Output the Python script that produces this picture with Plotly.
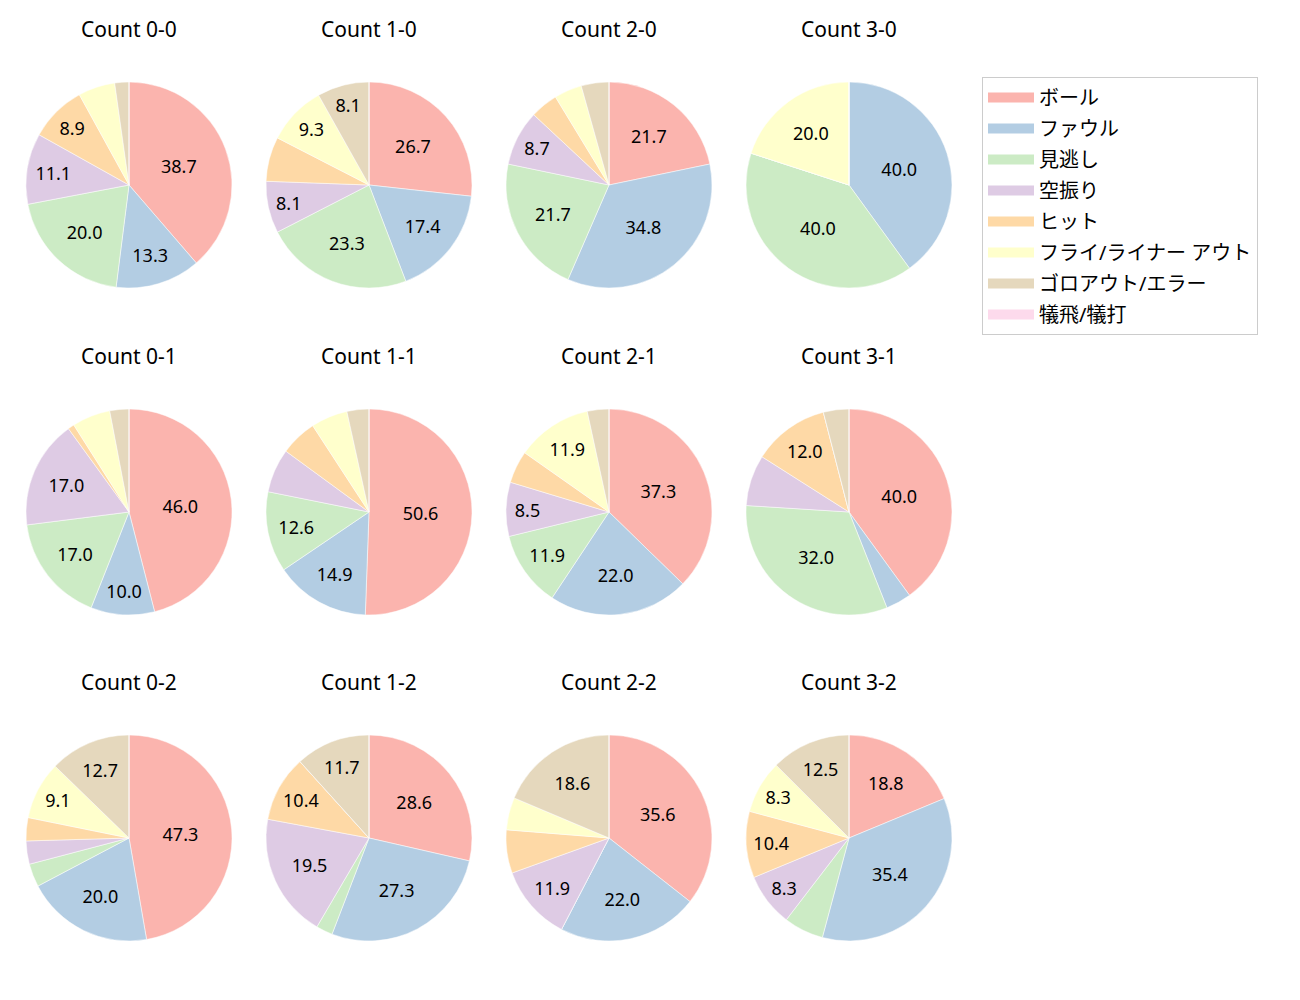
import plotly.graph_objects as go

labels = ["ボール", "ファウル", "見逃し", "空振り", "ヒット",
          "フライ/ライナー アウト", "ゴロアウト/エラー", "犠飛/犠打"]
colors = ["#fbb4ae", "#b3cde3", "#ccebc5", "#decbe4", "#fed9a6",
          "#ffffcc", "#e5d8bd", "#fddaec"]

# counts per ball-strike situation, same order as labels
count_0_0 = [87, 30, 45, 25, 20, 13, 5, 0]
count_1_0 = [23, 15, 20, 7, 6, 8, 7, 0]
count_2_0 = [5, 8, 5, 2, 1, 1, 1, 0]
count_3_0 = [0, 2, 2, 0, 0, 1, 0, 0]
count_0_1 = [46, 10, 17, 17, 1, 6, 3, 0]
count_1_1 = [44, 13, 11, 6, 5, 5, 3, 0]
count_2_1 = [22, 13, 7, 5, 3, 7, 2, 0]
count_3_1 = [10, 1, 8, 2, 3, 0, 1, 0]
count_0_2 = [26, 11, 2, 2, 2, 5, 7, 0]
count_1_2 = [22, 21, 2, 15, 8, 0, 9, 0]
count_2_2 = [21, 13, 0, 7, 4, 3, 11, 0]
count_3_2 = [9, 17, 3, 4, 5, 4, 6, 0]

panels = [
    ("Count 0-0", count_0_0), ("Count 1-0", count_1_0),
    ("Count 2-0", count_2_0), ("Count 3-0", count_3_0),
    ("Count 0-1", count_0_1), ("Count 1-1", count_1_1),
    ("Count 2-1", count_2_1), ("Count 3-1", count_3_1),
    ("Count 0-2", count_0_2), ("Count 1-2", count_1_2),
    ("Count 2-2", count_2_2), ("Count 3-2", count_3_2),
]

W, H = 1300, 1000
OFF = 8  # page body margin
col_cx = [129 - OFF, 369 - OFF, 609 - OFF, 849 - OFF]
row_cy = [185 - OFF, 512 - OFF, 838 - OFF]
R = 103
FONT = "Noto Sans, Noto Sans CJK JP"

fig = go.Figure()
annotations = []
for i, (title, vals) in enumerate(panels):
    cx = col_cx[i % 4]
    cy = row_cy[i // 4]
    total = sum(vals)
    text = [f"{v / total * 100:.1f}" if v / total * 100 > 8 else "" for v in vals]
    fig.add_trace(go.Pie(
        labels=labels,
        values=vals,
        text=text,
        textinfo="text",
        textposition="inside",
        insidetextorientation="horizontal",
        textfont=dict(family=FONT, size=18, color="black"),
        marker=dict(colors=colors, line=dict(color="white", width=0.5)),
        sort=False,
        direction="clockwise",
        rotation=0,
        showlegend=False,
        hoverinfo="label+percent",
        domain=dict(x=[(cx - R) / W, (cx + R) / W],
                    y=[1 - (cy + R) / H, 1 - (cy - R) / H]),
    ))
    annotations.append(dict(
        text=title, x=cx / W, y=1 - (cy - 156) / H, xref="paper", yref="paper",
        showarrow=False, xanchor="center", yanchor="middle",
        font=dict(family=FONT, size=21, color="black"),
    ))

# legend entries drawn as thick line swatches
for lab, col in zip(labels, colors):
    fig.add_trace(go.Scatter(
        x=[None], y=[None], mode="lines", name=lab, legendgroup=lab,
        line=dict(color=col, width=15), hoverinfo="skip",
    ))

fig.update_layout(
    width=W, height=H,
    margin=dict(l=0, r=0, t=0, b=0),
    paper_bgcolor="white", plot_bgcolor="white",
    font=dict(family=FONT),
    xaxis=dict(visible=False), yaxis=dict(visible=False),
    annotations=annotations,
    legend=dict(
        x=(982 - OFF) / W, y=1 - (77 - OFF) / H, xanchor="left", yanchor="top",
        bordercolor="#cccccc", borderwidth=1, bgcolor="white",
        font=dict(family=FONT, size=20, color="black"),
        tracegroupgap=2, itemwidth=46,
    ),
)

fig.write_html("out.html")
